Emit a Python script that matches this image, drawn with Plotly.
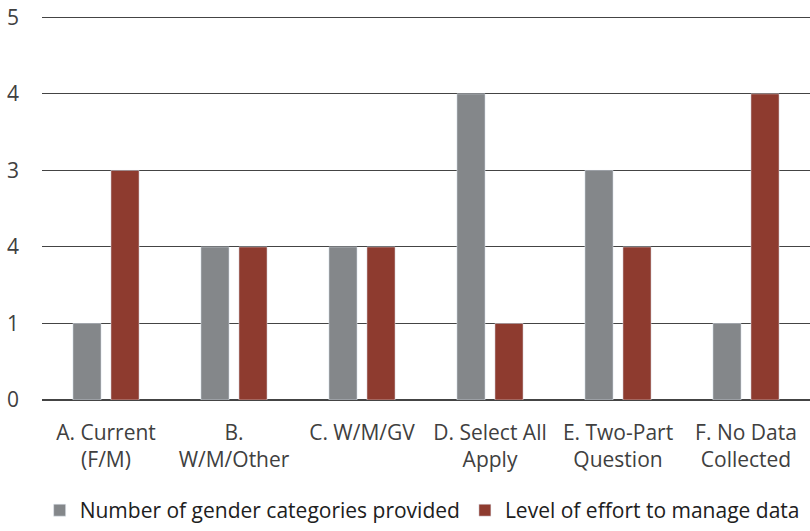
import plotly.graph_objects as go

# ─── Data ────────────────────────────────────────────────────────────────
CATEGORIES = [
    "A. Current<br>(F/M)",
    "B.<br>W/M/Other",
    "C. W/M/GV",
    "D. Select All<br>Apply",
    "E. Two-Part<br>Question",
    "F. No Data<br>Collected",
]
GENDER_CATEGORIES = [1, 2, 2, 4, 3, 1]
EFFORT = [3, 2, 2, 1, 2, 4]

TICK_VALS = [0, 1, 2, 3, 4, 5]
TICK_TEXT = ["0", "1", "4", "3", "4", "5"]

COLORS = {
    "grey": "#84878A",
    "red": "#8E3B2F",
    "grid": "#444444",
    "text": "#404040",
}
FONT = "'Open Sans', sans-serif"

fig = go.Figure()
fig.add_trace(go.Bar(
    x=CATEGORIES, y=GENDER_CATEGORIES,
    name="Number of gender categories provided",
    marker_color=COLORS["grey"],
))
fig.add_trace(go.Bar(
    x=CATEGORIES, y=EFFORT,
    name="Level of effort to manage data",
    marker_color=COLORS["red"],
))

fig.update_layout(
    width=810, height=531,
    barmode="group",
    bargap=0.406,
    bargroupgap=0.26,
    paper_bgcolor="white",
    plot_bgcolor="white",
    font=dict(family=FONT, size=21, color=COLORS["text"]),
    margin=dict(l=42, r=0, t=15, b=131),
    legend=dict(
        orientation="h", x=0.495, xanchor="center",
        yref="container", y=-0.014, yanchor="bottom",
        font=dict(size=21, color="#202020"), traceorder="normal",
        itemwidth=30,
    ),
    xaxis=dict(showgrid=False, showline=False, ticks="", tickfont=dict(size=21),
               ticklabelstandoff=18),
    yaxis=dict(
        range=[0, 5.03], tickvals=TICK_VALS, ticktext=TICK_TEXT,
        showgrid=True, gridcolor=COLORS["grid"], gridwidth=1.4,
        zeroline=True, zerolinecolor=COLORS["grid"], zerolinewidth=1.8,
        ticks="", ticklabelstandoff=22, tickfont=dict(size=21),
    ),
)

fig.write_html("out.html", config={"displayModeBar": False},
               post_script="document.body.style.margin='0';")
